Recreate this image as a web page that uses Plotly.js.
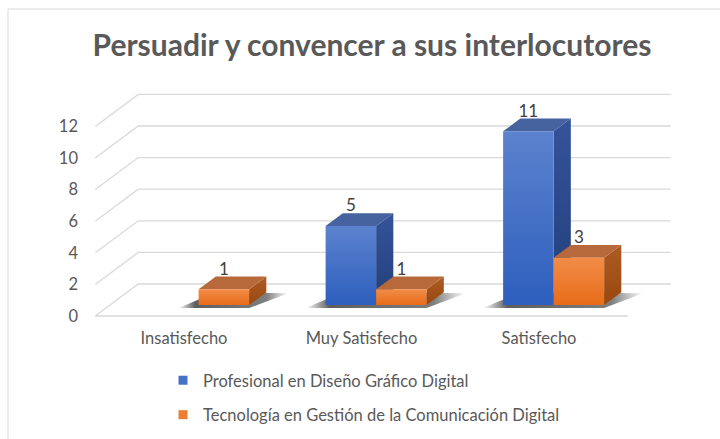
<!DOCTYPE html>
<html>
<head>
<meta charset="utf-8">
<script src="https://cdn.plot.ly/plotly-3.0.1.min.js"></script>
<style>html,body{margin:0;padding:0;background:#fff;}#chart{width:720px;height:439px;}</style>
</head>
<body>
<div id="chart"></div>
<script>
// ---- data ----
const categories = ['Insatisfecho', 'Muy Satisfecho', 'Satisfecho'];
const seriesNames = ['Profesional en Diseño Gráfico Digital', 'Tecnología en Gestión de la Comunicación Digital'];
const profesional = [0, 5, 11];
const tecnologia = [1, 1, 3];
const yTicks = [0, 2, 4, 6, 8, 10, 12];

// ---- layout geometry (pixels -> axis units) ----
const W = 720, H = 439;
const L = 85, R = 700, T = 60, B = 326;
const PXX = 177.5, PXY = 15.8;          // px per category / px per value unit
const X0PX = 184, Y0PX = 316;           // pixel of category 0 / value 0 on the front plane
const xRange = [-(X0PX - L) / PXX, (R - X0PX) / PXX];
const yRange = [-(B - Y0PX) / PXY, (Y0PX - T) / PXY];
const DX = 43 / PXX, DY = 32 / PXY;     // full floor depth offset
const BAR_W = 50.5 / PXX;
const BAR_F = 0.34, BAR_B = 0.74;
const wallX0 = -0.5, wallX1 = categories.length - 0.5;

const palette = [
  {front: ['#2e5fbe', '#5b82cd'], side: ['#223f7a', '#34539a'], top: '#46629f', legend: '#4472c4'},
  {front: ['#e86c18', '#f28c48'], side: ['#98480f', '#ad5b22'], top: '#b7693c', legend: '#ed7d31'}
];
const seriesValues = [profesional, tecnologia];

const traces = [];

// gridlines on the back wall + left wall, floor front edge
const gx = [], gy = [];
yTicks.forEach(v => {
  gx.push(wallX0, wallX0 + DX, wallX1 + DX, null);
  gy.push(v, v + DY, v + DY, null);
});
gx.push(wallX0, wallX1); gy.push(0, 0);
traces.push({type: 'scatter', mode: 'lines', x: gx, y: gy, line: {color: '#d9d9d9', width: 1.3},
  hoverinfo: 'skip', showlegend: false});

const ybase = BAR_F * DY;
const ddx = (BAR_B - BAR_F) * DX, ddy = (BAR_B - BAR_F) * DY;
function barLeft(s, i) { return i + BAR_F * DX + (s - 1) * BAR_W; }

// shadows per category
categories.forEach((c, i) => {
  const idx = [0, 1].filter(s => seriesValues[s][i] > 0);
  if (!idx.length) return;
  const xl = barLeft(idx[0], i), xr = barLeft(idx[idx.length - 1], i) + BAR_W;
  traces.push({type: 'scatter', mode: 'none', fill: 'toself',
    x: [xl - 20 / PXX, xr, xr + ddx + 22 / PXX, xl + ddx],
    y: [ybase - 3 / PXY, ybase - 3 / PXY, ybase + ddy - 1 / PXY, ybase + ddy],
    fillgradient: {type: 'horizontal', colorscale: [[0, 'rgba(40,40,40,0)'], [0.15, 'rgba(40,40,40,0.75)'], [0.8, 'rgba(40,40,40,0.6)'], [1, 'rgba(40,40,40,0)']]},
    hoverinfo: 'skip', showlegend: false});
});

// bars (3D faces)
seriesValues.forEach((vals, s) => {
  vals.forEach((v, i) => {
    if (!(v > 0)) return;
    const xl = barLeft(s, i), xr = xl + BAR_W, yt = ybase + v;
    const p = palette[s];
    traces.push({type: 'scatter', mode: 'none', fill: 'toself',
      x: [xr, xr + ddx, xr + ddx, xr], y: [ybase, ybase + ddy, yt + ddy, yt],
      fillgradient: {type: 'vertical', colorscale: [[0, p.side[0]], [1, p.side[1]]]},
      hoverinfo: 'skip', showlegend: false});
    traces.push({type: 'scatter', mode: 'none', fill: 'toself',
      x: [xl, xr, xr + ddx, xl + ddx], y: [yt, yt, yt + ddy, yt + ddy],
      fillcolor: p.top, hoverinfo: 'skip', showlegend: false});
    traces.push({type: 'scatter', mode: 'none', fill: 'toself',
      x: [xl, xr, xr, xl], y: [ybase, ybase, yt, yt],
      fillgradient: {type: 'vertical', colorscale: [[0, p.front[0]], [1, p.front[1]]]},
      hoverinfo: 'skip', showlegend: false});
  });
});

// data labels
const lx = [], ly = [], lt = [];
seriesValues.forEach((vals, s) => {
  vals.forEach((v, i) => {
    if (!(v > 0)) return;
    lx.push(barLeft(s, i) + BAR_W / 2);
    ly.push(ybase + v + 1.2);
    lt.push(String(v));
  });
});
traces.push({type: 'scatter', mode: 'text', x: lx, y: ly, text: lt, textposition: 'middle center',
  textfont: {family: 'Lato, sans-serif', size: 17, color: '#404040'}, hoverinfo: 'skip', showlegend: false});

// legend entries
seriesNames.forEach((n, s) => {
  traces.push({type: 'scatter', mode: 'markers', x: [null], y: [null], name: n, legendgroup: 'g' + s,
    marker: {symbol: 'square', size: 9, color: palette[s].legend}});
});

const layout = {
  width: W, height: H,
  margin: {l: L, r: W - R, t: T, b: H - B, autoexpand: false},
  paper_bgcolor: '#ffffff', plot_bgcolor: 'rgba(0,0,0,0)',
  font: {family: 'Lato, sans-serif', color: '#595959', size: 16.5},
  title: {text: 'Persuadir y convencer a sus interlocutores', x: 372 / W, xanchor: 'center', xref: 'container',
    y: 1 - 45 / H, yanchor: 'middle', yref: 'container',
    font: {family: 'Lato, sans-serif', size: 30, weight: 'bold', color: '#595959'}},
  xaxis: {range: xRange, tickvals: categories.map((c, i) => i), ticktext: categories, showgrid: false,
    zeroline: false, showline: false, ticks: '', fixedrange: true, tickfont: {size: 16.5, color: '#595959'}},
  yaxis: {range: yRange, tickvals: yTicks, showgrid: false, zeroline: false, showline: false, ticks: '',
    fixedrange: true, tickfont: {size: 16.5, color: '#595959'}, ticklabelstandoff: 6},
  showlegend: true,
  legend: {orientation: 'v', x: (163 - L) / (R - L), xanchor: 'left', y: (B - 363) / (B - T), yanchor: 'top',
    font: {size: 16.5, color: '#595959'}, tracegroupgap: 10, bgcolor: 'rgba(0,0,0,0)'},
  shapes: [{type: 'rect', xref: 'paper', yref: 'paper', x0: (8 - L) / (R - L), x1: (760 - L) / (R - L),
    y0: (B - 480) / (B - T), y1: (B - 9) / (B - T), line: {color: '#d9d9d9', width: 1}, fillcolor: 'rgba(0,0,0,0)', layer: 'below'}]
};

Plotly.newPlot('chart', traces, layout, {displayModeBar: false, staticPlot: true});
</script>
</body>
</html>
